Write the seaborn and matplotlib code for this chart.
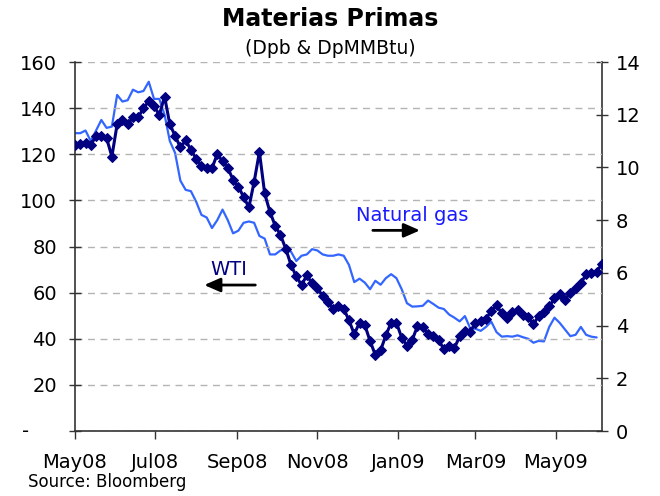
"""
Materias Primas - WTI vs Natural gas (May08 - Jun09)
"""
import pandas as pd
import numpy as np
import matplotlib
matplotlib.use('Agg')
import matplotlib.pyplot as plt
import matplotlib.dates as mdates
import matplotlib.transforms as mtransforms
import seaborn as sns

# Datos (cada 4 días desde 1-may-2008)
fechas = pd.date_range('2008-05-01', periods=101, freq='4D')

wti = [124, 124.5, 125, 124, 128, 128, 127, 119, 133, 135,
       133, 136, 136, 140, 143, 141, 137, 145, 133, 128,
       123, 126, 122, 118, 115, 114, 114, 120, 117, 114,
       109, 106, 101.5, 97, 108, 121, 103, 95, 89, 85,
       79, 72, 67, 63.3, 67.5, 64, 62, 58.5, 56, 53,
       54, 53, 48, 42, 47, 46, 39, 33, 35, 41.5,
       47, 47, 40.5, 37, 39.5, 45.5, 45, 42, 41, 39.5,
       35.5, 37, 36, 41, 43.5, 43, 47, 47.7, 48.7, 52,
       54.5, 51, 49, 51.8, 52.3, 50.5, 49.6, 46.2, 50, 51.5,
       54, 57.5, 59.4, 57, 60, 62, 64, 68, 68.5, 69,
       72.5]

gas = [11.3, 11.3, 11.4, 11.0, 11.4, 11.8, 11.5, 11.55, 12.75, 12.5,
       12.55, 12.95, 12.85, 12.9, 13.25, 12.6, 12.6, 12.0, 11.0, 10.55,
       9.5, 9.15, 9.1, 8.7, 8.2, 8.1, 7.7, 8.0, 8.4, 8.0,
       7.5, 7.6, 7.9, 7.95, 7.9, 7.4, 7.3, 6.7, 6.7, 6.85,
       6.9, 6.8, 6.45, 6.65, 6.7, 6.9, 6.85, 6.7, 6.65, 6.65,
       6.7, 6.65, 6.3, 5.65, 5.78, 5.63, 5.38, 5.7, 5.55, 5.8,
       5.95, 5.8, 5.38, 4.85, 4.72, 4.73, 4.75, 4.95, 4.82, 4.68,
       4.63, 4.42, 4.3, 4.16, 4.36, 3.9, 3.88, 3.8, 3.95, 4.15,
       3.75, 3.58, 3.6, 3.58, 3.63, 3.56, 3.5, 3.35, 3.42, 3.4,
       3.95, 4.3, 4.1, 3.85, 3.6, 3.65, 3.95, 3.65, 3.58, 3.55]

ticks_izq = [0, 20, 40, 60, 80, 100, 120, 140, 160]
etiquetas_izq = ['', '20', '40', '60', '80', '100', '120', '140', '160']
ticks_der = [0, 2, 4, 6, 8, 10, 12, 14]

# Configuración
sns.set_theme(style='white')
plt.rcParams['font.family'] = ['DejaVu Sans']
plt.rcParams['text.color'] = 'black'
plt.rcParams['xtick.color'] = 'black'
plt.rcParams['ytick.color'] = 'black'

COLOR_WTI = '#000080'
COLOR_GAS = '#3366FF'


def main():
    df_wti = pd.DataFrame({'fecha': fechas, 'WTI': wti})
    df_gas = pd.DataFrame({'fecha': fechas[:len(gas)], 'gas': gas})

    fig = plt.figure(figsize=(6.6, 4.96), dpi=100)
    ax = fig.add_axes([0.1136, 0.131, 0.7984, 0.744])
    ax2 = ax.twinx()

    # Gas natural (eje derecho)
    sns.lineplot(data=df_gas, x='fecha', y='gas', ax=ax2, color=COLOR_GAS,
                 linewidth=1.6, zorder=2)
    # WTI (eje izquierdo) con marcadores
    sns.lineplot(data=df_wti, x='fecha', y='WTI', ax=ax, color=COLOR_WTI,
                 linewidth=2.2, marker='D', markersize=5.2,
                 markeredgecolor=COLOR_WTI, zorder=3)
    ax.set_zorder(ax2.get_zorder() + 1)
    ax.patch.set_visible(False)

    # Ejes
    ax.set_xlim(pd.Timestamp('2008-05-01'), pd.Timestamp('2009-06-05'))
    ax.set_ylim(0, 160)
    ax2.set_ylim(0, 14)
    ax.set_yticks(ticks_izq)
    ax.set_yticklabels(etiquetas_izq)
    ax2.set_yticks(ticks_der)
    ax2.set_yticklabels([str(t) for t in ticks_der])
    ax.xaxis.set_major_locator(mdates.MonthLocator(bymonth=[1, 3, 5, 7, 9, 11]))
    ax.xaxis.set_major_formatter(mdates.DateFormatter('%b%y'))
    ax.set_xlabel('')
    ax.set_ylabel('')
    ax2.set_ylabel('')

    ax.yaxis.grid(True, color='#b4b4b4', linestyle=(0, (5, 4)), linewidth=1)
    ax.set_axisbelow(True)

    ax.spines['top'].set_visible(False)
    ax2.spines['top'].set_visible(False)
    ax.spines['right'].set_visible(False)
    ax2.spines['left'].set_visible(False)
    ax2.spines['bottom'].set_visible(False)
    for sp in [ax.spines['left'], ax.spines['bottom'], ax2.spines['right']]:
        sp.set_color('#333333')
        sp.set_linewidth(1.2)

    ax.tick_params(axis='y', which='major', left=True, direction='inout',
                   length=8, width=1, color='#333333', labelsize=14, pad=9)
    ax.tick_params(axis='x', which='major', bottom=True, direction='out',
                   length=6, width=1, color='#333333', labelsize=14, pad=10)
    ax2.tick_params(axis='y', which='major', right=True, direction='inout',
                    length=8, width=1, color='#333333', labelsize=14, pad=6)
    for lbl in ax.get_xticklabels() + ax.get_yticklabels() + ax2.get_yticklabels():
        lbl.set_color('black')

    # "-" para el cero (formato contable)
    trans = mtransforms.blended_transform_factory(ax.transAxes, ax.transData)
    ax.text(-0.1, 0, '-', transform=trans, ha='left', va='center', fontsize=14)

    # Anotaciones
    ax.text(pd.Timestamp('2009-01-12'), 93.5, 'Natural gas', color='#1a1aff',
            fontsize=14, ha='center', va='center')
    ax.annotate('', xy=(pd.Timestamp('2009-01-20'), 87),
                xytext=(pd.Timestamp('2008-12-11'), 87),
                arrowprops=dict(arrowstyle='-|>,head_length=0.8,head_width=0.35',
                                color='black', lw=2))
    ax.text(pd.Timestamp('2008-08-26'), 70, 'WTI', color=COLOR_WTI,
            fontsize=14, ha='center', va='center')
    ax.annotate('', xy=(pd.Timestamp('2008-08-05'), 63.3),
                xytext=(pd.Timestamp('2008-09-17'), 63.3),
                arrowprops=dict(arrowstyle='-|>,head_length=0.8,head_width=0.35',
                                color='black', lw=2))

    # Títulos
    fig.text(0.5, 0.962, 'Materias Primas', ha='center', va='center',
             fontsize=17, fontweight='bold', color='black')
    fig.text(0.5, 0.903, '(Dpb & DpMMBtu)', ha='center', va='center',
             fontsize=13.5, color='black')
    fig.text(0.042, 0.028, 'Source: Bloomberg', ha='left', va='center',
             fontsize=12, color='black')

    fig.savefig('out.png', dpi=100)
    plt.close(fig)


if __name__ == "__main__":
    main()
